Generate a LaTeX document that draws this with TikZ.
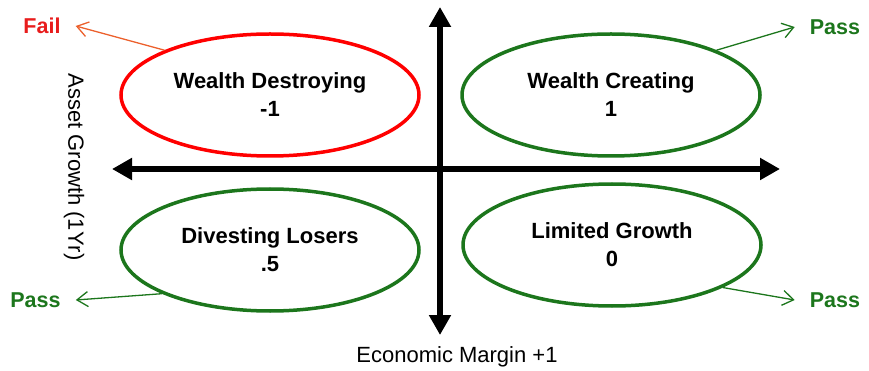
\documentclass[tikz,border=0pt]{standalone}
\usepackage{fontspec}
\setmainfont{Liberation Sans}
\usepackage{tikz}
\usetikzlibrary{arrows.meta,shapes.geometric}
\definecolor{passgreen}{RGB}{28,118,28}
\definecolor{failred}{RGB}{232,28,28}
\definecolor{failline}{RGB}{236,96,44}

\begin{document}
\begin{tikzpicture}[x=1pt,y=-1pt]
\useasboundingbox (0,0) rectangle (869,371);

% axis ends
\coordinate (L) at (112,169);
\coordinate (R) at (780,169);
\coordinate (T) at (440,7);
\coordinate (B) at (440,335);

\begin{scope}[>={Triangle[length=20pt,width=21pt]}, line width=6pt]
    \draw [<->] (L) -- (R);
    \draw [<->] (T) -- (B);
\end{scope}

% the four quadrants
\begin{scope}[every node/.style={ellipse,draw=passgreen,line width=3.5pt,
              minimum width=298pt,minimum height=122pt,align=center,
              font=\fontsize{22}{28}\selectfont\bfseries}]
    \node[draw=red] (WD) at (270,95) {Wealth Destroying\\-1};
    \node (WC) at (611,95) {Wealth Creating\\1};
    \node (DL) at (270,250) {Divesting Losers\\.5};
    \node (LG) at (612,245) {Limited Growth\\0};
\end{scope}

% verdicts
\begin{scope}[every node/.style={font=\fontsize{21.5}{24}\selectfont\bfseries,
              inner xsep=15pt,inner ysep=2pt}]
    \node[text=failred] (fail) at (42,26) {Fail};
    \node[text=passgreen] (passTR) at (835,27) {Pass};
    \node[text=passgreen] (passBL) at (35.5,300) {Pass};
    \node[text=passgreen] (passBR) at (835,300) {Pass};
\end{scope}

\begin{scope}[>={Straight Barb[length=11pt,width=15pt]}, line width=1.3pt]
    \draw [->, failline] (WD.157) -- (fail.east);
    \draw [->, passgreen] (WC.23) -- (passTR.west);
    \draw [->, passgreen] (DL.202) -- (passBL.east);
    \draw [->, passgreen] (LG.-21) -- (passBR.west);
\end{scope}

% axis labels
\node[rotate=-90, font=\fontsize{22}{26}\selectfont] (ylab) at (74,167) {Asset Growth (1Yr)};
\node[font=\fontsize{22}{26}\selectfont] (xlab) at (457,357) {Economic Margin +1};
\end{tikzpicture}
\end{document}
